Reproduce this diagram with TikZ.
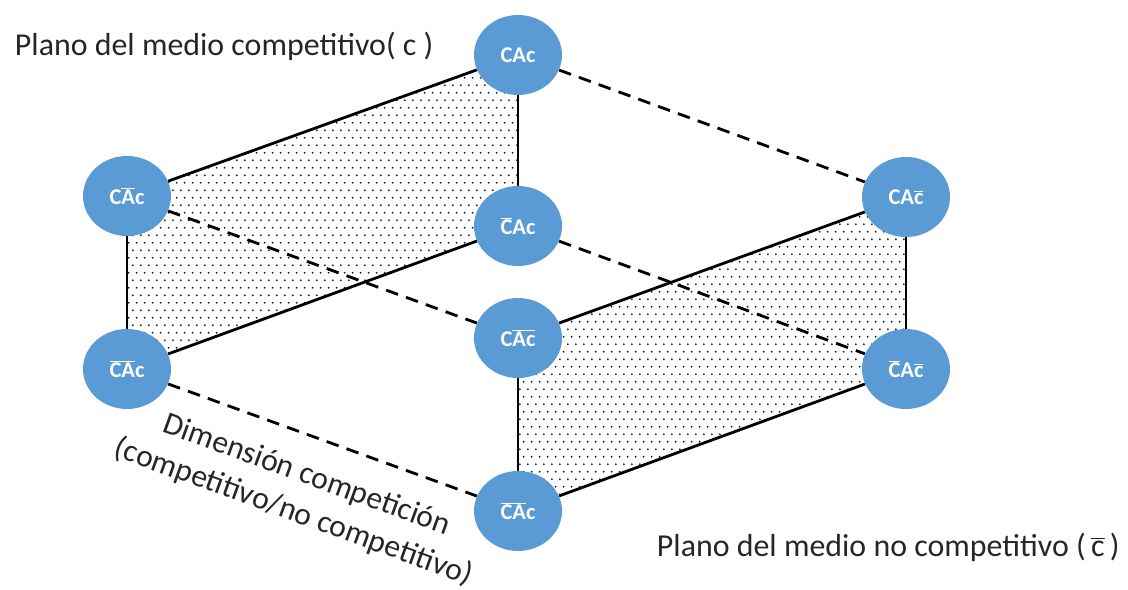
\documentclass[tikz,border=0pt]{standalone}
\usepackage{fontspec}
\setmainfont{Carlito}
\usetikzlibrary{shapes.geometric, patterns.meta}
\pgfdeclarelayer{bg}
\pgfsetlayers{bg,main}
\definecolor{cubeblue}{RGB}{91,155,213}
\newcommand{\ovl}[1]{\ensuremath{\overline{\mbox{#1}}}}
\tikzdeclarepattern{
  name=cubedots, type=uncolored,
  bounding box={(0,0) and (5.5pt,11pt)},
  tile size={(5.5pt,11pt)},
  code={
    \fill (1.375pt,2.75pt) circle (0.75pt);
    \fill (4.125pt,8.25pt) circle (0.75pt);
  }
}
\tikzset{
    vertex/.style={ellipse, fill=cubeblue, minimum width=2.2cm,
    	minimum height=2cm, inner sep=0pt, text=white,
    	font=\fontsize{16}{19}\selectfont\bfseries},
    plane/.style={font=\fontsize{22.7}{27}\selectfont, text=black!85},
    face/.style={pattern=cubedots, pattern color=black!90},
    frontline/.style={line width=2pt},
    backline/.style={line width=2pt, dash pattern=on 9pt off 6pt}
}

\begin{document}
\begin{tikzpicture}
  \useasboundingbox (0cm, 0cm) rectangle (28.2cm, 14.75cm);

  \node (v0) [vertex] at (12.95cm, 13.375cm) {CAc};
  \node (v1) [vertex] at (3.175cm, 9.85cm) {C\ovl{A}c};
  \node (v2) [vertex] at (12.95cm, 9.1cm) {\ovl{C}Ac};
  \node (v3) [vertex] at (22.65cm, 9.825cm) {CA\ovl{c}};
  \node (v4) [vertex] at (3.175cm, 5.525cm) {\ovl{CA}c};
  \node (v5) [vertex] at (12.95cm, 6.3cm) {C\ovl{Ac}};
  \node (v6) [vertex] at (22.65cm, 5.525cm) {\ovl{C}A\ovl{c}};
  \node (v7) [vertex] at (12.95cm, 1.975cm) {\ovl{CA}c};

  \node (p0) [plane, anchor=west] at (0.25cm, 13.6cm) {Plano del medio competitivo( c )};
  \node (p1) [plane, anchor=west] at (16.3cm, 1.075cm) {Plano del medio no competitivo (\,\ovl{c}\,)};
  \node (dim) [plane, rotate=-20, align=center, font=\fontsize{22.5}{28}\selectfont]
    at (7.5cm, 2.4cm) {Dimensión competición\\(competitivo/no competitivo)};

  \begin{pgfonlayer}{bg}
	  \fill[face] (v0.center) -- (v1.center) -- (v4.center) -- (v2.center) -- cycle;
	  \fill[face] (v5.center) -- (v3.center) -- (v6.center) -- (v7.center) -- cycle;
	  \draw[frontline] (v0) edge (v1); \draw[frontline] (v0) edge (v2);
	  \draw[frontline] (v1) edge (v4); \draw[frontline] (v4) edge (v2);
	  \draw[frontline] (v5) edge (v3); \draw[frontline] (v3) edge (v6);
	  \draw[frontline] (v5) edge (v7); \draw[frontline] (v7) edge (v6);
	  \draw[backline] (v0) edge (v3); \draw[backline] (v1) edge (v5);
	  \draw[backline] (v2) edge (v6); \draw[backline] (v4) edge (v7);
  \end{pgfonlayer}

\end{tikzpicture}
\end{document}
